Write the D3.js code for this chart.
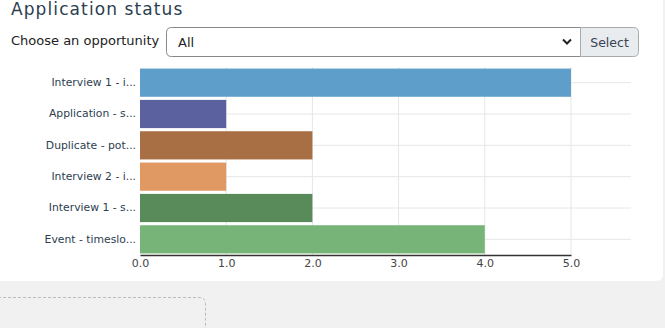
<!DOCTYPE html>
<html><head><meta charset="utf-8">
<script src="https://cdn.jsdelivr.net/npm/d3@7"></script>
<style>
html,body{margin:0;padding:0;background:#f1f1f1;}
svg{display:block;}
</style></head>
<body>
<svg id="c" width="665" height="328"></svg>
<script>
const categories = ["Interview 1 - i...", "Application - s...", "Duplicate - pot...", "Interview 2 - i...", "Interview 1 - s...", "Event - timeslo..."];
const values = [5, 1, 2, 1, 2, 4];
const barColors = ["#5499c7", "#525799", "#a4673a", "#de935a", "#4f8550", "#70b070"];
const tickValues = [0, 1, 2, 3, 4, 5];

const FONT = "'DejaVu Sans', Verdana, sans-serif";
const svg = d3.select("#c").attr("font-family", FONT);
const textCol = "#2c3e50";

svg.append("path")
  .attr("d", "M0,0 H663 V274 Q663,281 656,281 H0 Z")
  .attr("fill", "#fff");

svg.append("path")
  .attr("d", "M-2,297.5 H199 Q205.5,297.5 205.5,304 V330")
  .attr("fill", "none").attr("stroke", "#bbb").attr("stroke-dasharray", "3,2");

svg.append("text").attr("x", 11).attr("y", 14.5).attr("font-family", FONT)
  .attr("font-size", 17).attr("letter-spacing", 1.1).attr("fill", textCol)
  .text("Application status");

svg.append("text").attr("x", 11).attr("y", 44.5).attr("font-family", FONT)
  .attr("font-size", 13).attr("fill", "#222")
  .text("Choose an opportunity");

svg.append("path")
  .attr("d", "M580.5,27.5 H171.5 Q166.5,27.5 166.5,32.5 V51.5 Q166.5,56.5 171.5,56.5 H580.5 Z")
  .attr("fill", "#fff").attr("stroke", "#888");
svg.append("path")
  .attr("d", "M580.5,27.5 H633.5 Q638.5,27.5 638.5,32.5 V51.5 Q638.5,56.5 633.5,56.5 H580.5 Z")
  .attr("fill", "#e9ecef").attr("stroke", "#aaa");
svg.append("text").attr("x", 178).attr("y", 46.5).attr("font-family", FONT).attr("font-size", 13).attr("fill", "#222").text("All");
svg.append("path").attr("d", "M563,39.5 L567,43.5 L571,39.5")
  .attr("fill", "none").attr("stroke", "#222").attr("stroke-width", 2);
svg.append("text").attr("x", 609.5).attr("y", 46.5).attr("text-anchor", "middle").attr("font-family", FONT)
  .attr("font-size", 12.5).attr("fill", "#3a4256").text("Select");

const x = d3.scaleLinear().domain([0, 5]).range([140, 571]);
const y = d3.scaleBand().domain(categories).range([67, 255]).paddingInner(0.1).paddingOuter(0.05);

const g = svg.append("g");
g.selectAll(".vg").data(tickValues.slice(1)).join("line")
  .attr("x1", d => x(d)).attr("x2", d => x(d))
  .attr("y1", 67).attr("y2", 255).attr("stroke", "#e6e6e6");
g.selectAll(".hg").data(categories).join("line")
  .attr("x1", 140).attr("x2", 631)
  .attr("y1", d => y(d) + y.bandwidth() / 2).attr("y2", d => y(d) + y.bandwidth() / 2)
  .attr("stroke", "#e6e6e6");

g.selectAll(".bar").data(categories).join("rect")
  .attr("x", x(0)).attr("y", d => y(d))
  .attr("width", (d, i) => x(values[i]) - x(0))
  .attr("height", y.bandwidth())
  .attr("fill", (d, i) => barColors[i]).attr("fill-opacity", 0.95);

const yAxis = d3.axisLeft(y).tickSize(0).tickPadding(4);
const ya = svg.append("g").attr("transform", "translate(140,0)").call(yAxis).attr("font-family", FONT);
ya.select(".domain").remove();
ya.selectAll("text").attr("font-size", 10.8).attr("fill", textCol);

const xAxis = d3.axisBottom(x).tickValues(tickValues).tickFormat(d3.format(".1f")).tickSize(0).tickPadding(4);
const xa = svg.append("g").attr("transform", "translate(0,255)").call(xAxis).attr("font-family", FONT);
xa.select(".domain").attr("stroke", "#333").attr("stroke-width", 1.5);
xa.selectAll("text").attr("font-size", 11).attr("fill", "#444");
</script>
</body></html>
